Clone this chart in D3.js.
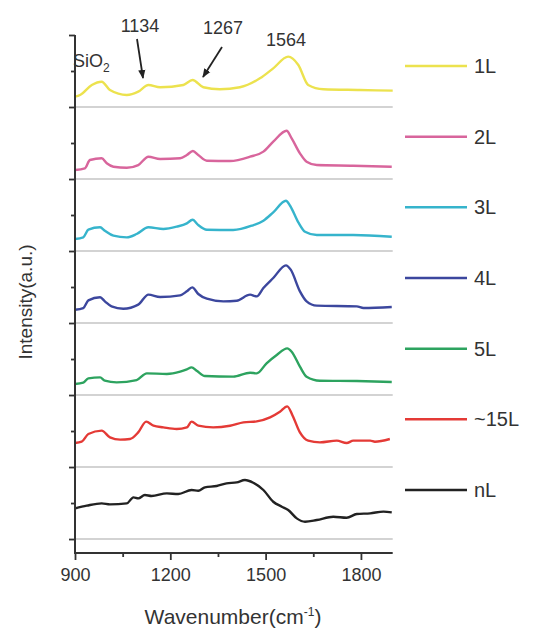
<!DOCTYPE html>
<html><head><meta charset="utf-8">
<script src="https://cdn.jsdelivr.net/npm/d3@7"></script>
<style>body{margin:0;background:#fff}svg{display:block;font-family:"Liberation Sans",Arial,sans-serif}</style>
</head><body><svg id="c" width="537" height="630"></svg>
<script>
// ---- data (wavenumber, intensity above own baseline) ----
const seriesNames = ["1L","2L","3L","4L","5L","~15L","nL"];
const seriesColors = ["#ece24e","#d8659c","#36b4cc","#3c479e","#2da35f","#e43a36","#222222"];
const seriesOffsets = [6,5,4,3,2,1,0];
const s1L = [[900,.143],[916,.167],[953,.306],[984,.351],[1010,.236],[1063,.167],[1099,.213],[1131,.306],[1168,.274],[1241,.306],[1270,.375],[1304,.274],[1356,.246],[1419,.274],[1482,.398],[1524,.537],[1571,.699],[1603,.583],[1634,.306],[1682,.246],[1797,.236],[1900,.227]];
const s2L = [[900,.125],[931,.149],[947,.264],[984,.288],[1000,.218],[1021,.171],[1063,.157],[1099,.194],[1131,.310],[1168,.278],[1231,.288],[1252,.333],[1271,.389],[1288,.333],[1315,.254],[1388,.250],[1451,.310],[1493,.380],[1524,.518],[1566,.671],[1582,.565],[1608,.357],[1629,.240],[1661,.194],[1776,.185],[1897,.171]];
const s3L = [[900,.167],[926,.19],[942,.296],[979,.329],[994,.282],[1021,.213],[1063,.19],[1094,.236],[1131,.329],[1178,.306],[1220,.338],[1252,.384],[1270,.435],[1288,.361],[1315,.296],[1398,.292],[1456,.351],[1493,.421],[1524,.537],[1564,.699],[1577,.629],[1603,.398],[1624,.268],[1661,.222],[1776,.222],[1897,.199]];
const s4L = [[900,.185],[926,.208],[942,.315],[979,.357],[994,.301],[1015,.231],[1052,.199],[1099,.255],[1131,.394],[1168,.361],[1231,.384],[1252,.44],[1269,.495],[1288,.403],[1315,.338],[1367,.301],[1409,.31],[1451,.394],[1472,.37],[1493,.486],[1524,.625],[1564,.801],[1579,.741],[1608,.44],[1629,.301],[1661,.241],[1787,.231],[1808,.208],[1897,.222]];
const s5L = [[900,.153],[926,.171],[942,.231],[979,.245],[994,.199],[1031,.176],[1094,.208],[1126,.301],[1189,.292],[1231,.324],[1252,.356],[1267,.384],[1283,.338],[1309,.264],[1398,.255],[1451,.31],[1472,.301],[1503,.44],[1535,.556],[1568,.648],[1582,.602],[1608,.394],[1629,.255],[1671,.199],[1787,.194],[1897,.181]];
const s15L = [[900,.333],[921,.352],[942,.458],[984,.505],[1010,.412],[1042,.38],[1073,.389],[1099,.481],[1124,.63],[1147,.574],[1178,.551],[1220,.528],[1252,.551],[1267,.63],[1288,.574],[1335,.551],[1388,.574],[1430,.62],[1472,.634],[1514,.69],[1545,.768],[1568,.843],[1585,.713],[1608,.481],[1634,.366],[1671,.343],[1724,.366],[1755,.333],[1776,.366],[1829,.366],[1844,.352],[1891,.389]];
const snL = [[900,.426],[937,.463],[984,.495],[1010,.481],[1063,.495],[1084,.579],[1099,.565],[1120,.611],[1141,.597],[1189,.634],[1225,.625],[1267,.681],[1288,.671],[1309,.718],[1346,.736],[1377,.773],[1409,.787],[1435,.819],[1461,.782],[1493,.681],[1524,.518],[1551,.449],[1571,.403],[1598,.287],[1624,.24],[1661,.264],[1713,.31],[1755,.296],[1787,.347],[1829,.357],[1871,.38],[1897,.37]];
const seriesData = [s1L,s2L,s3L,s4L,s5L,s15L,snL];
const xTicks = [900,1200,1500,1800];
const xMinorTicks = [1050,1350,1650];
const peakLabels = ["1134","1267","1564"];

// ---- layout ----
const svg = d3.select("#c");
const x = d3.scaleLinear().domain([900,1900]).range([75,392.7]);
const y = d3.scaleLinear().domain([-0.194,7]).range([553,35]);
const axisCol = "#333";

// gray baselines
svg.append("g").selectAll("line").data(seriesOffsets).join("line")
  .attr("x1",x(900)).attr("x2",x(1900))
  .attr("y1",d=>y(d)).attr("y2",d=>y(d))
  .attr("stroke","#c4c4c4").attr("stroke-width",1.5);

// spectra
const line = d3.line().x(d=>x(d[0])).y(d=>y(d[1])).curve(d3.curveMonotoneX);
seriesData.forEach((s,i)=>{
  svg.append("path").datum(s.map(p=>[p[0],p[1]+seriesOffsets[i]]))
    .attr("d",line).attr("fill","none")
    .attr("stroke",seriesColors[i]).attr("stroke-width",2.4)
    .attr("stroke-linejoin","round");
});

// x axis
const gx = svg.append("g").attr("transform","translate(0,553)");
gx.call(d3.axisBottom(x).tickValues(xTicks).tickSize(7).tickPadding(8).tickFormat(d3.format("d")));
gx.append("g").call(d3.axisBottom(x).tickValues(xMinorTicks).tickSize(4).tickFormat(""));
gx.selectAll("path.domain").remove();
gx.selectAll("line").attr("stroke",axisCol).attr("stroke-width",1.8);
gx.selectAll("text").attr("fill","#333").style("font-size","18px");
svg.append("line").attr("x1",74).attr("x2",x(1900)).attr("y1",553).attr("y2",553)
  .attr("stroke",axisCol).attr("stroke-width",2);

// y axis
const gy = svg.append("g").attr("transform","translate(75,0)");
gy.call(d3.axisLeft(y).tickValues([0,1,2,3,4,5,6,7]).tickSize(6).tickFormat(""));
gy.append("g").call(d3.axisLeft(y).tickValues([0.5,1.5,2.5,3.5,4.5,5.5,6.5]).tickSize(4).tickFormat(""));
gy.selectAll("path.domain").remove();
gy.selectAll("line").attr("stroke",axisCol).attr("stroke-width",1.8);
svg.append("line").attr("x1",75).attr("x2",75).attr("y1",y(7)).attr("y2",554)
  .attr("stroke",axisCol).attr("stroke-width",2);

// axis titles
const xt = svg.append("text").attr("x",233).attr("y",624).attr("text-anchor","middle")
  .attr("fill","#333").style("font-size","21px");
xt.append("tspan").text("Wavenumber(cm");
xt.append("tspan").attr("dy",-8).style("font-size","12px").text("-1");
xt.append("tspan").attr("dy",8).text(")");
svg.append("text").attr("transform","translate(32,302) rotate(-90)").attr("text-anchor","middle")
  .attr("fill","#333").style("font-size","19px").text("Intensity(a.u.)");

// legend
const lg = svg.append("g");
const legendY = d3.scaleLinear().domain([0,6]).range([66,490]);
seriesNames.forEach((n,i)=>{
  const ly = legendY(i);
  lg.append("line").attr("x1",405).attr("x2",467).attr("y1",ly).attr("y2",ly)
    .attr("stroke",seriesColors[i]).attr("stroke-width",2.5);
  lg.append("text").attr("x",474).attr("y",ly+7).attr("fill","#333")
    .style("font-size","20px").text(n);
});

// annotations
const ann = svg.append("g").attr("fill","#333").style("font-size","18px");
ann.append("text").attr("x",140).attr("y",32).attr("text-anchor","middle").text(peakLabels[0]);
ann.append("text").attr("x",223).attr("y",34).attr("text-anchor","middle").text(peakLabels[1]);
ann.append("text").attr("x",286).attr("y",46).attr("text-anchor","middle").text(peakLabels[2]);
const sio = ann.append("text").attr("x",73).attr("y",67);
sio.append("tspan").text("SiO");
sio.append("tspan").attr("dy",5).style("font-size","12px").text("2");

// arrows
const defs = svg.append("defs");
defs.append("marker").attr("id","ah").attr("viewBox","0 0 10 10").attr("refX",9).attr("refY",5)
  .attr("markerWidth",5).attr("markerHeight",5).attr("orient","auto")
  .append("path").attr("d","M0,1 L10,5 L0,9 Z").attr("fill","#222");
svg.append("line").attr("x1",137).attr("y1",39).attr("x2",143).attr("y2",78)
  .attr("stroke","#222").attr("stroke-width",1.8).attr("marker-end","url(#ah)");
svg.append("line").attr("x1",222).attr("y1",47).attr("x2",203).attr("y2",77)
  .attr("stroke","#222").attr("stroke-width",1.8).attr("marker-end","url(#ah)");
</script></body></html>
